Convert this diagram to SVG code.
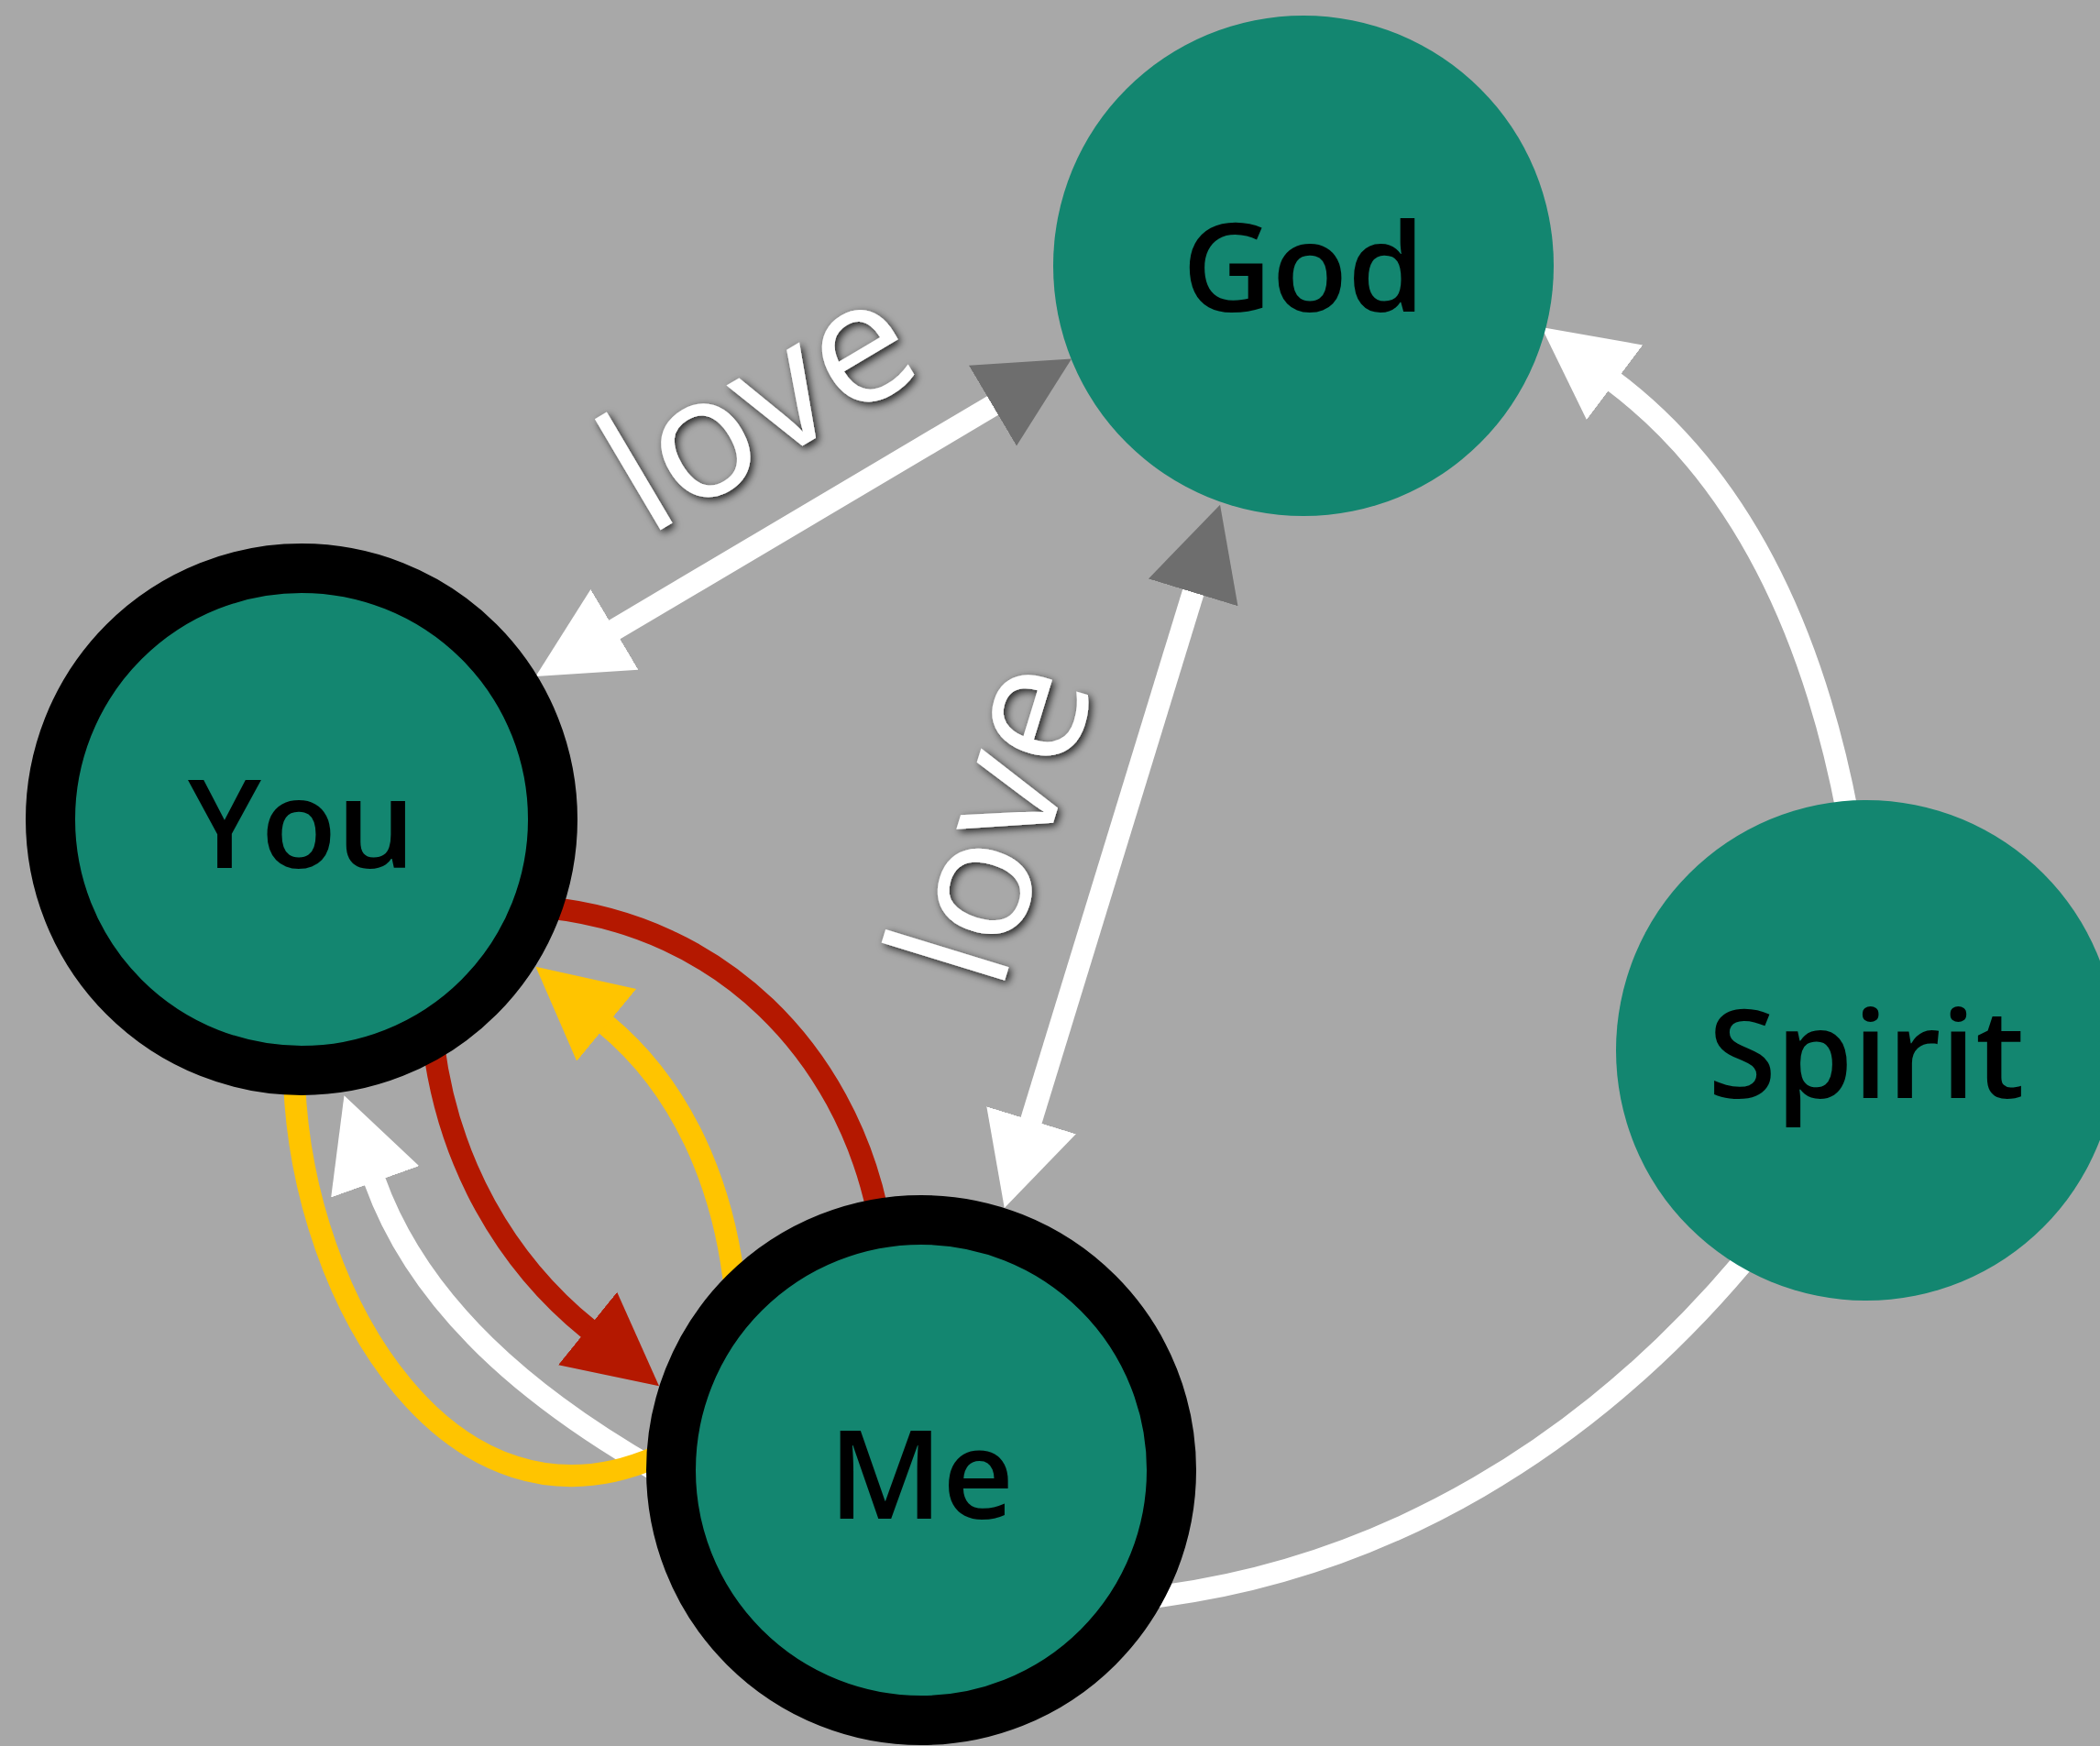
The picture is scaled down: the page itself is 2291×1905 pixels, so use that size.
<svg xmlns="http://www.w3.org/2000/svg" width="2291" height="1905" viewBox="0 0 2291 1905">
<style>
.node{fill:#138670}
.ring{stroke:#000;stroke-width:54}
.lbl{font-family:"Open Sans","Noto Sans","DejaVu Sans",sans-serif;font-size:135px;font-weight:600;fill:#000;text-anchor:middle}
.love{font-family:"Open Sans","Noto Sans","DejaVu Sans",sans-serif;font-size:185px;fill:#fff;text-anchor:middle}
.c{fill:none;stroke-width:24}
.w{stroke:#fff}
.r{stroke:#B41800}
.y{stroke:#FFC400}
</style>
<defs>
<marker id="mW" markerUnits="userSpaceOnUse" markerWidth="110" markerHeight="110" viewBox="0 -55 110 110" refX="2" refY="0" orient="auto-start-reverse"><path d="M0,-51 L100,0 L0,51 Z" fill="#fff"/></marker>
<marker id="mG" markerUnits="userSpaceOnUse" markerWidth="110" markerHeight="110" viewBox="0 -55 110 110" refX="2" refY="0" orient="auto-start-reverse"><path d="M0,-51 L100,0 L0,51 Z" fill="#6E6E6E"/></marker>
<marker id="mR" markerUnits="userSpaceOnUse" markerWidth="110" markerHeight="110" viewBox="0 -55 110 110" refX="2" refY="0" orient="auto-start-reverse"><path d="M0,-51 L100,0 L0,51 Z" fill="#B41800"/></marker>
<marker id="mY" markerUnits="userSpaceOnUse" markerWidth="110" markerHeight="110" viewBox="0 -55 110 110" refX="2" refY="0" orient="auto-start-reverse"><path d="M0,-51 L100,0 L0,51 Z" fill="#FFC400"/></marker>
<filter id="sh" x="-20%" y="-20%" width="140%" height="140%"><feDropShadow dx="3" dy="3" stdDeviation="4" flood-color="#000" flood-opacity="0.8"/></filter>
</defs>
<rect width="2291" height="1905" fill="#A8A8A8"/>
<g id="connectors">
<path id="god-you" class="c w" d="M668.7,687.95 L1084.7,441.55" marker-start="url(#mW)" marker-end="url(#mG)"/>
<path id="god-me" class="c w" d="M1124.5,1224.2 L1302.3,644.5" marker-start="url(#mW)" marker-end="url(#mG)"/>
<path id="spirit-god" class="c w" d="M2016,890 C1980,700 1905,525 1760,416" marker-end="url(#mW)"/>
<path id="me-spirit" class="c w" d="M1255,1743 C1515,1712 1735,1574 1900,1379"/>
<path id="me-you-white" class="c w" d="M715,1604 C580.5,1527.1 458.3,1426.6 408.5,1287.5" marker-end="url(#mW)"/>
<path id="you-me-red-outer" class="c r" d="M595,990 C790,1010 920,1150 957,1320"/>
<path id="you-me-red" class="c r" d="M472.9,1139.4 C489.3,1268.4 551.2,1376.9 642.7,1450.7" marker-end="url(#mR)"/>
<path id="me-you-yellow" class="c y" d="M802.2,1410.2 C790.2,1290.8 742.7,1185.3 660.1,1117.2" marker-end="url(#mY)"/>
<path id="you-me-yellow-outer" class="c y" d="M321,1180 C330.6,1425 495,1685 715,1590"/>
</g>
<g id="edge-labels">
<g filter="url(#sh)"><text class="love" transform="translate(859.4,495.9) rotate(-30.64)">love</text></g>
<g filter="url(#sh)"><text class="love" transform="translate(1143.5,915.5) rotate(-72.95)">love</text></g>
</g>
<g id="god"><circle class="node" cx="1422" cy="290" r="273"/><text class="lbl" x="1422" y="340">God</text></g>
<g id="you"><circle class="node ring" cx="329" cy="894" r="274"/><text class="lbl" x="329" y="947">You</text></g>
<g id="me"><circle class="node ring" cx="1005" cy="1604" r="273"/><text class="lbl" x="1005" y="1657">Me</text></g>
<g id="spirit"><circle class="node" cx="2036" cy="1146" r="273"/><text class="lbl" x="2036" y="1198">Spirit</text></g>
</svg>
